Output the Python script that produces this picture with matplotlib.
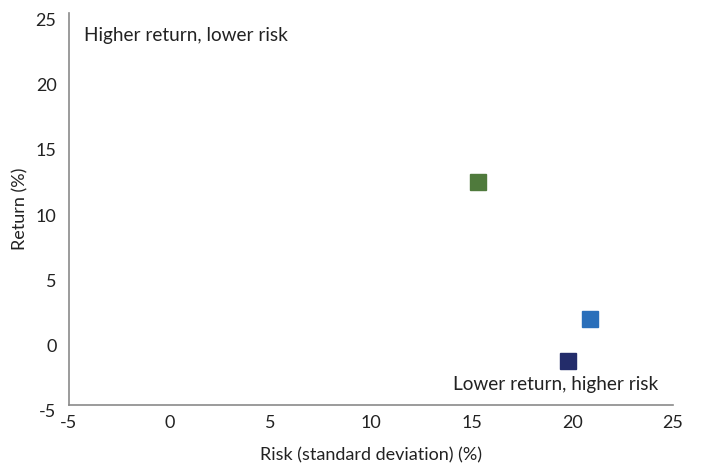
import matplotlib
matplotlib.use("Agg")
import matplotlib.pyplot as plt
from matplotlib.transforms import ScaledTranslation

plt.rcParams['font.family'] = ['Lato', 'DejaVu Sans']
plt.rcParams['axes.unicode_minus'] = False

# Risk / return points
risk = [15.3, 20.9, 19.8]
ret = [12.1, 1.6, -1.6]
colors = ['#4F7A3C', '#2A6FBA', '#232C6A']

x_ticks = [-5, 0, 5, 10, 15, 20, 25]
y_ticks = [-5, 0, 5, 10, 15, 20, 25]

fig = plt.figure(figsize=(7.01, 4.70), dpi=100)
ax = fig.add_axes([0.0984, 0.1383, 0.8616, 0.834])

for x, y, c in zip(risk, ret, colors):
    ax.plot(x, y, marker='s', markersize=11.5, color=c, linestyle='none')

ax.set_xlim(-5, 25)
ax.set_ylim(-5, 25)
ax.set_xticks(x_ticks)
ax.set_yticks(y_ticks)
ax.tick_params(length=0, labelsize=13, colors='#222222')
ax.tick_params(axis='x', pad=7)
ax.tick_params(axis='y', pad=9)

# y tick labels sit slightly below their gridline values
shift = ScaledTranslation(0, -0.06, fig.dpi_scale_trans)
for lbl in ax.get_yticklabels():
    lbl.set_transform(lbl.get_transform() + shift)

for side in ('top', 'right'):
    ax.spines[side].set_visible(False)
for side in ('left', 'bottom'):
    ax.spines[side].set_color('#8a8a8a')
    ax.spines[side].set_linewidth(1.2)

ax.set_xlabel('Risk (standard deviation) (%)', fontsize=13, color='#222222', labelpad=12)
ax.set_ylabel('Return (%)', fontsize=13, color='#222222', labelpad=5)

ax.text(-4.25, 23.3, 'Higher return, lower risk', fontsize=13.7, color='#222222',
        ha='left', va='center')
ax.text(24.26, -3.46, 'Lower return, higher risk', fontsize=13.7, color='#222222',
        ha='right', va='center')

fig.savefig('out.png', dpi=100)
